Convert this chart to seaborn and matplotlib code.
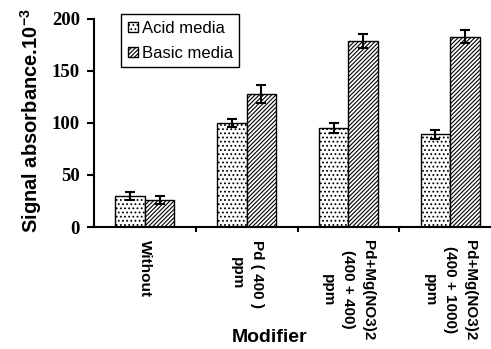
import matplotlib
matplotlib.use("Agg")
import matplotlib.pyplot as plt
import seaborn as sns
import pandas as pd
from matplotlib.ticker import FixedLocator

categories = ["Without", "Pd ( 400 )\nppm", "Pd+Mg(NO3)2\n(400 + 400)\nppm",
              "Pd+Mg(NO3)2\n(400 + 1000)\nppm"]
series_names = ["Acid media", "Basic media"]
acid_vals = [30, 100, 95, 89]
basic_vals = [26, 128, 179, 183]
acid_err = [4, 4, 5, 4]
basic_err = [4, 8.5, 7, 6.5]
y_ticks = [0, 50, 100, 150, 200]

sns.set_style("white")
plt.rcParams["hatch.linewidth"] = 0.8
plt.rcParams["hatch.color"] = "black"
plt.rcParams["text.color"] = "black"
plt.rcParams["axes.labelcolor"] = "black"
plt.rcParams["xtick.color"] = "black"
plt.rcParams["ytick.color"] = "black"

df = pd.DataFrame({
    "Modifier": categories * 2,
    "Media": [series_names[0]] * 4 + [series_names[1]] * 4,
    "Signal": acid_vals + basic_vals,
})

fig = plt.figure(figsize=(4.91, 3.49), dpi=100)
ax = fig.add_axes([94 / 491, (349 - 227) / 349, 407 / 491, 208 / 349])

sns.barplot(data=df, x="Modifier", y="Signal", hue="Media", order=categories,
            hue_order=series_names, palette=["white", "white"], width=0.58,
            edgecolor="black", linewidth=1.0, errorbar=None, legend=False,
            saturation=1, ax=ax)

hatches = ["....", "////////"]
for cont, h, errs in zip(ax.containers, hatches, [acid_err, basic_err]):
    xs, ys = [], []
    for p in cont.patches:
        p.set_hatch(h)
        p.set_edgecolor("black")
        xs.append(p.get_x() + p.get_width() / 2)
        ys.append(p.get_height())
    ax.errorbar(xs, ys, yerr=errs, fmt="none", ecolor="black", elinewidth=1.5,
                capsize=3.3, capthick=1.5, zorder=5)

ax.set_xlim(-0.5, 3.5)
ax.set_ylim(0, 200)
ax.set_yticks(y_ticks)
ax.set_yticklabels([str(v) for v in y_ticks],
                   fontdict=dict(family="Liberation Serif", weight="bold", size=13.5))
ax.set_xticks(range(len(categories)))
ax.set_xticklabels(categories, rotation=270, ha="center", va="top",
                   multialignment="center",
                   fontdict=dict(family="Liberation Sans", weight="bold", size=11),
                   linespacing=1.55)
ax.xaxis.set_minor_locator(FixedLocator([0.5, 1.5, 2.5, 3.5]))
ax.tick_params(axis="x", which="major", length=0, pad=9)
ax.tick_params(axis="x", which="minor", length=3.5, width=1.5, direction="out",
               bottom=True)
ax.tick_params(axis="y", which="major", length=5, width=1.5, direction="out",
               left=True, pad=5)

for s in ["top", "right"]:
    ax.spines[s].set_visible(False)
for s in ["left", "bottom"]:
    ax.spines[s].set_linewidth(1.5)
    ax.spines[s].set_color("black")

ax.set_ylabel("Signal absorbance.10$^{\\mathregular{-3}}$", family="Liberation Sans",
              weight="bold", size=14.5)
ax.yaxis.set_label_coords(-0.123, 0.51)
ax.set_xlabel("Modifier", family="Liberation Sans", weight="bold", size=14)
ax.xaxis.set_label_coords(0.432, -0.49)

leg = ax.legend(handles=list(ax.containers), labels=series_names,
                loc="upper left", bbox_to_anchor=(0.066, 1.024), borderaxespad=0,
                prop=dict(family="Liberation Sans", size=12),
                handlelength=0.6, handleheight=0.6, handletextpad=0.25,
                labelspacing=0.6, borderpad=0.4, frameon=True, fancybox=False,
                edgecolor="black", framealpha=1)
leg.get_frame().set_linewidth(1.0)

fig.savefig("out.png", dpi=100)
